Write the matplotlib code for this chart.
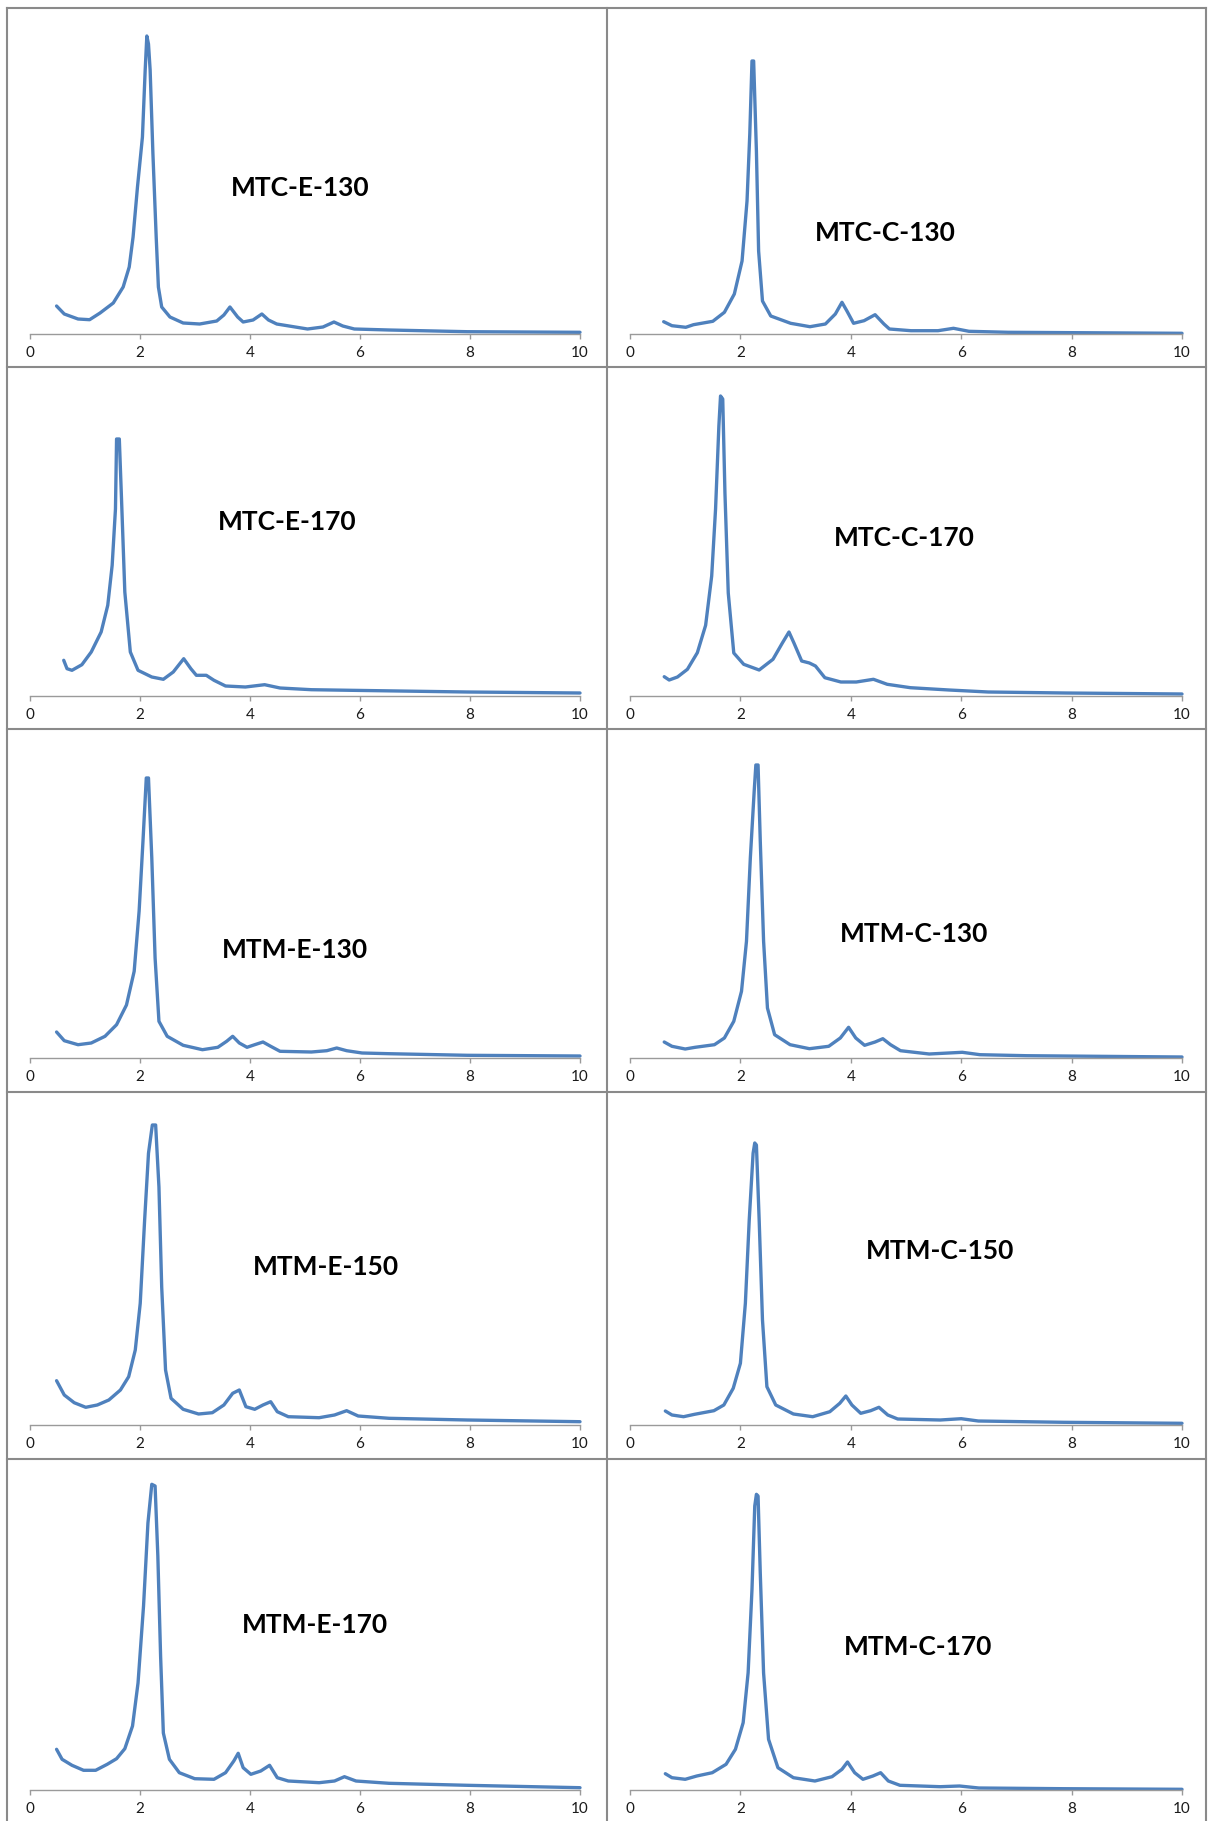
import numpy as np
import matplotlib
matplotlib.use("Agg")
import matplotlib.pyplot as plt
from matplotlib.lines import Line2D

# sample names, one per panel (row by row, left then right)
names = ["MTC-E-130", "MTC-C-130", "MTC-E-170", "MTC-C-170", "MTM-E-130",
         "MTM-C-130", "MTM-E-150", "MTM-C-150", "MTM-E-170", "MTM-C-170"]

xticks = [0, 2, 4, 6, 8, 10]

# curves (x, intensity in arbitrary units)
mtc_e_130_x = [0.49, 0.63, 0.88, 1.09, 1.28, 1.52, 1.70, 1.81, 1.88, 1.96, 2.05, 2.10, 2.13, 2.16, 2.19, 2.24,
               2.30, 2.34, 2.40, 2.55, 2.79, 3.09, 3.40, 3.53, 3.64, 3.78, 3.88, 4.06, 4.22, 4.34, 4.49, 5.05,
               5.33, 5.53, 5.69, 5.90, 6.53, 7.95, 10.0]
mtc_e_130_y = [28, 20, 15, 14.3, 21, 31, 47, 67, 97, 147, 197, 264, 298, 290, 264, 181,
               97, 47, 27, 17, 11, 10, 13, 19, 27, 17, 12, 14, 20, 14, 10, 5,
               7, 12, 8, 5, 4, 2.3, 1.7]

mtc_c_130_x = [0.61, 0.76, 1.01, 1.15, 1.50, 1.71, 1.89, 2.03, 2.12, 2.17, 2.21, 2.24, 2.29, 2.33, 2.40, 2.55,
               2.91, 3.26, 3.54, 3.72, 3.84, 3.93, 4.05, 4.24, 4.44, 4.60, 4.70, 5.09, 5.58, 5.86, 6.14, 6.85,
               10.0]
mtc_c_130_y = [12.3, 8.3, 6.7, 9.3, 12.7, 21.7, 40, 73, 133, 200, 273, 273, 183, 83, 33, 18,
               10.7, 7.3, 10, 20, 31.7, 23, 10.7, 13.3, 19.3, 10, 5, 3.3, 3.3, 5.7, 2.7, 1.7,
               0.7]

mtc_e_170_x = [0.62, 0.68, 0.77, 0.95, 1.12, 1.30, 1.42, 1.50, 1.56, 1.58, 1.63, 1.67, 1.73, 1.83, 1.97, 2.22,
               2.43, 2.61, 2.80, 2.93, 3.03, 3.21, 3.35, 3.56, 3.92, 4.27, 4.55, 5.12, 5.83, 7.95, 10.0]
mtc_e_170_y = [35.7, 27.3, 25.7, 31.3, 44, 64, 90.7, 130.7, 187, 257, 257, 197, 104, 44, 25.7, 19,
               16.7, 24, 37.3, 27.3, 20.7, 20.7, 15.7, 10, 9, 11.3, 8, 6.3, 5.7, 4, 3]

mtc_c_170_x = [0.62, 0.71, 0.86, 1.04, 1.22, 1.37, 1.48, 1.55, 1.61, 1.64, 1.68, 1.72, 1.78, 1.88, 2.06, 2.34,
               2.59, 2.76, 2.88, 2.97, 3.11, 3.25, 3.36, 3.53, 3.82, 4.10, 4.41, 4.66, 5.08, 5.78, 6.49, 7.89,
               10.0]
mtc_c_170_y = [19.3, 16, 19, 26.7, 43.3, 70.7, 120, 187, 270, 300, 297, 203, 103, 43, 31.7, 26,
               36.7, 53, 64, 53, 35, 33, 30, 18.3, 14, 14, 16.7, 11.7, 8.3, 6, 4, 3,
               2]

mtm_e_130_x = [0.49, 0.63, 0.88, 1.12, 1.37, 1.58, 1.76, 1.90, 1.99, 2.06, 2.12, 2.16, 2.22, 2.28, 2.35, 2.50,
               2.79, 3.14, 3.42, 3.58, 3.69, 3.81, 3.95, 4.09, 4.24, 4.38, 4.55, 5.12, 5.40, 5.58, 5.76, 6.04,
               6.53, 7.95, 10.0]
mtm_e_130_y = [26, 17.3, 13.3, 15, 21.7, 33.3, 53, 86.7, 147, 217, 280, 280, 200, 100, 36.7, 21.7,
               12.7, 8.3, 10.7, 16.7, 21.7, 15, 10.7, 13.3, 16, 11.7, 6.7, 6, 7.3, 10, 7.3, 5,
               4.3, 2.7, 2]

mtm_c_130_x = [0.62, 0.76, 1.00, 1.18, 1.53, 1.71, 1.88, 2.02, 2.11, 2.18, 2.25, 2.28, 2.32, 2.36, 2.42, 2.49,
               2.62, 2.90, 3.25, 3.60, 3.81, 3.96, 4.09, 4.25, 4.44, 4.58, 4.72, 4.90, 5.42, 6.02, 6.34, 7.18,
               10.0]
mtm_c_130_y = [16, 11.7, 9, 10.7, 13.3, 20, 36.7, 66.7, 116.7, 200, 267, 293, 293, 217, 117, 50,
               23.3, 13.3, 9.3, 11.7, 20, 30.7, 20, 12.7, 16, 19.3, 13.3, 7.3, 4, 5.7, 3.3, 2.3,
               1]

mtm_e_150_x = [0.49, 0.63, 0.81, 1.02, 1.23, 1.44, 1.65, 1.80, 1.92, 2.01, 2.09, 2.16, 2.23, 2.29, 2.35, 2.40,
               2.47, 2.57, 2.79, 3.07, 3.32, 3.53, 3.69, 3.81, 3.93, 4.09, 4.24, 4.38, 4.50, 4.70, 5.26, 5.54,
               5.76, 5.97, 6.53, 7.95, 10.0]
mtm_e_150_y = [44.3, 30, 22.3, 17.7, 20, 25, 35, 48.3, 75, 121.7, 205, 271.7, 300, 300, 238, 138,
               55, 26.7, 15.7, 11, 12.3, 20, 31.7, 35, 18.3, 15.7, 20, 23.3, 13.3, 8.3, 7.3, 10,
               14.3, 9, 6.7, 5, 3.3]

mtm_c_150_x = [0.64, 0.76, 0.97, 1.17, 1.52, 1.70, 1.87, 2.00, 2.09, 2.16, 2.23, 2.26, 2.29, 2.34, 2.40, 2.48,
               2.64, 2.96, 3.31, 3.62, 3.80, 3.91, 4.02, 4.18, 4.36, 4.51, 4.67, 4.85, 5.62, 6.00, 6.31, 7.85,
               10.0]
mtm_c_150_y = [14, 10, 8.3, 10.7, 14.3, 20, 36.7, 61.7, 121.7, 205, 271.7, 282, 280, 205, 105, 38.3,
               20, 11, 8.3, 13.3, 21.7, 29, 20, 11.7, 14.3, 17.7, 10, 6, 5, 6.3, 4, 2.7,
               1.7]

mtm_e_170_x = [0.49, 0.59, 0.77, 0.98, 1.20, 1.41, 1.58, 1.73, 1.87, 1.97, 2.07, 2.15, 2.22, 2.28, 2.33, 2.38,
               2.43, 2.54, 2.72, 3.00, 3.35, 3.56, 3.71, 3.79, 3.88, 4.02, 4.20, 4.36, 4.50, 4.70, 5.26, 5.54,
               5.72, 5.93, 6.53, 7.95, 10.0]
mtm_e_170_y = [40.7, 30.7, 24.7, 19.7, 19.7, 25.7, 31.3, 41.3, 64, 107, 184, 267, 305.7, 304, 234, 134,
               57, 30.7, 17.3, 11.3, 10.7, 17.3, 29, 36.7, 22.3, 15.7, 19, 24.7, 12.3, 9, 7.3, 9,
               13.3, 9, 6.7, 4.7, 2.3]

mtm_c_170_x = [0.64, 0.76, 1.00, 1.21, 1.49, 1.74, 1.91, 2.05, 2.14, 2.21, 2.26, 2.29, 2.32, 2.36, 2.42, 2.51,
               2.68, 2.96, 3.35, 3.66, 3.84, 3.94, 4.07, 4.22, 4.40, 4.54, 4.68, 4.89, 5.62, 5.97, 6.32, 7.86,
               10.0]
mtm_c_170_y = [16.3, 12.3, 10.7, 14, 17.3, 25.7, 40.7, 67.3, 117.3, 200.7, 284, 295.7, 294, 217, 117, 50.7,
               22.3, 12.3, 9, 13.3, 20.7, 28, 17.3, 10.7, 14, 17.3, 9, 4.7, 3.3, 4, 2, 1.3,
               0.7]

curves = [(mtc_e_130_x, mtc_e_130_y), (mtc_c_130_x, mtc_c_130_y),
          (mtc_e_170_x, mtc_e_170_y), (mtc_c_170_x, mtc_c_170_y),
          (mtm_e_130_x, mtm_e_130_y), (mtm_c_130_x, mtm_c_130_y),
          (mtm_e_150_x, mtm_e_150_y), (mtm_c_150_x, mtm_c_150_y),
          (mtm_e_170_x, mtm_e_170_y), (mtm_c_170_x, mtm_c_170_y)]

W, H = 1208, 1821
fig = plt.figure(figsize=(W / 100, H / 100), dpi=100)
fig.patch.set_facecolor("white")

# layout in pixels
col_x0 = [29.6, 630]
col_x10 = [580, 1182]
row_axis = [334, 696, 1058, 1425, 1790]
label_pos = [(300, 188), (885, 233), (287, 522), (904, 538), (295, 950),
             (914, 934), (326, 1267), (940, 1251), (315, 1625), (918, 1647)]
plot_h = 320

for i, (xs, ys) in enumerate(curves):
    r, c = i // 2, i % 2
    left = col_x0[c] / W
    width = (col_x10[c] - col_x0[c]) / W
    bottom = 1 - row_axis[r] / H
    ax = fig.add_axes([left, bottom, width, plot_h / H])
    ax.patch.set_alpha(0)
    ax.plot(xs, ys, color="#4F81BD", lw=2.4, clip_on=False,
            solid_joinstyle="round", solid_capstyle="round")
    ax.set_xlim(0, 10)
    ax.set_ylim(0, plot_h)
    for s in ["left", "top", "right"]:
        ax.spines[s].set_visible(False)
    ax.spines["bottom"].set_color("#9a9a9a")
    ax.spines["bottom"].set_linewidth(1.0)
    ax.set_yticks([])
    ax.set_xticks(xticks)
    ax.set_xticklabels([str(t) for t in xticks])
    ax.tick_params(axis="x", direction="out", length=3.5, width=1.0, color="#9a9a9a",
                   labelsize=11, labelcolor="#1a1a1a", pad=5)
    for lab in ax.get_xticklabels():
        lab.set_family("Lato")
    lx, ly = label_pos[i]
    fig.text(lx / W, 1 - ly / H, names[i], ha="center", va="center",
             fontsize=19, fontweight="bold", family="Lato", color="black")

# panel borders
border = "#8a8a8a"
for x in [7, 607, 1206]:
    fig.add_artist(Line2D([x / W, x / W], [1 - 8 / H, 0], color=border, lw=1.5))
for y in [8, 367, 729, 1092, 1459]:
    fig.add_artist(Line2D([7 / W, 1206 / W], [1 - y / H, 1 - y / H], color=border, lw=1.5))

plt.savefig("out.png", dpi=100)
